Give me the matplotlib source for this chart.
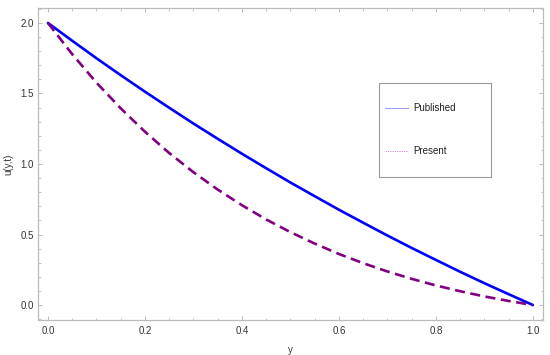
import numpy as np
import matplotlib
matplotlib.use('Agg')
import matplotlib.pyplot as plt
from matplotlib.patches import Rectangle
from matplotlib.ticker import MultipleLocator

# values
y_vals = [0.0, 0.05, 0.1, 0.15, 0.2, 0.25, 0.3, 0.35, 0.4, 0.45, 0.5,
          0.55, 0.6, 0.65, 0.7, 0.75, 0.8, 0.85, 0.9, 0.95, 1.0]
published = [2.0, 1.874, 1.750, 1.630, 1.513, 1.399, 1.287, 1.179, 1.073, 0.970, 0.869,
             0.772, 0.676, 0.584, 0.493, 0.405, 0.320, 0.236, 0.155, 0.077, 0.0]
present = [2.0, 1.779, 1.577, 1.395, 1.229, 1.078, 0.942, 0.819, 0.708, 0.607, 0.517,
           0.436, 0.362, 0.297, 0.238, 0.186, 0.139, 0.098, 0.061, 0.029, 0.0]
labels = ["Published", "Present"]

plt.rcParams['font.family'] = ['Liberation Sans', 'DejaVu Sans']

fig = plt.figure(figsize=(5.5, 3.55), dpi=100)
ax = fig.add_axes([0.069, 0.0986, 0.918, 0.8788])

ax.plot(y_vals, published, color='#0000ff', lw=1.9, solid_capstyle='round')
ax.plot(y_vals, present, color='#800080', lw=1.9, dashes=(3.8, 2.1))

ax.set_xlim(-0.0206, 1.0206)
ax.set_ylim(-0.106, 2.106)
ax.xaxis.set_major_locator(MultipleLocator(0.2))
ax.xaxis.set_minor_locator(MultipleLocator(0.05))
ax.yaxis.set_major_locator(MultipleLocator(0.5))
ax.yaxis.set_minor_locator(MultipleLocator(0.1))

frame = '#bbbbbb'
for s in ax.spines.values():
    s.set_color(frame)
    s.set_linewidth(0.9)
ax.tick_params(which='both', direction='in', top=True, right=True,
               color=frame, labelsize=7, labelcolor='#333333')
ax.tick_params(which='major', length=3.2, width=0.7)
ax.tick_params(which='minor', length=1.8, width=0.6)
ax.tick_params(axis='x', pad=4)
ax.tick_params(axis='y', pad=3)
ax.xaxis.set_major_formatter(matplotlib.ticker.FormatStrFormatter('%.1f'))
ax.yaxis.set_major_formatter(matplotlib.ticker.FormatStrFormatter('%.1f'))

ax.set_xlabel('y', fontsize=7, color='#333333', labelpad=7)
ax.set_ylabel('u(y,t)', fontsize=7, color='#333333', labelpad=5)

# legend box drawn by hand to match the original layout
ax.add_patch(Rectangle((0.675, 0.458), 0.222, 0.302, transform=ax.transAxes,
                       fill=False, ec='#999999', lw=0.8))
ax.plot([0.687, 0.733], [0.679, 0.679], transform=ax.transAxes,
        color='#9999ff', lw=0.7)
ax.plot([0.687, 0.733], [0.542, 0.542], transform=ax.transAxes,
        color='#cc88cc', lw=0.7, dashes=(1.2, 1.2))
ax.text(0.743, 0.679, labels[0], transform=ax.transAxes, fontsize=7,
        va='center', ha='left', color='#222222')
ax.text(0.743, 0.542, labels[1], transform=ax.transAxes, fontsize=7,
        va='center', ha='left', color='#222222')

fig.savefig('out.png', dpi=100)
